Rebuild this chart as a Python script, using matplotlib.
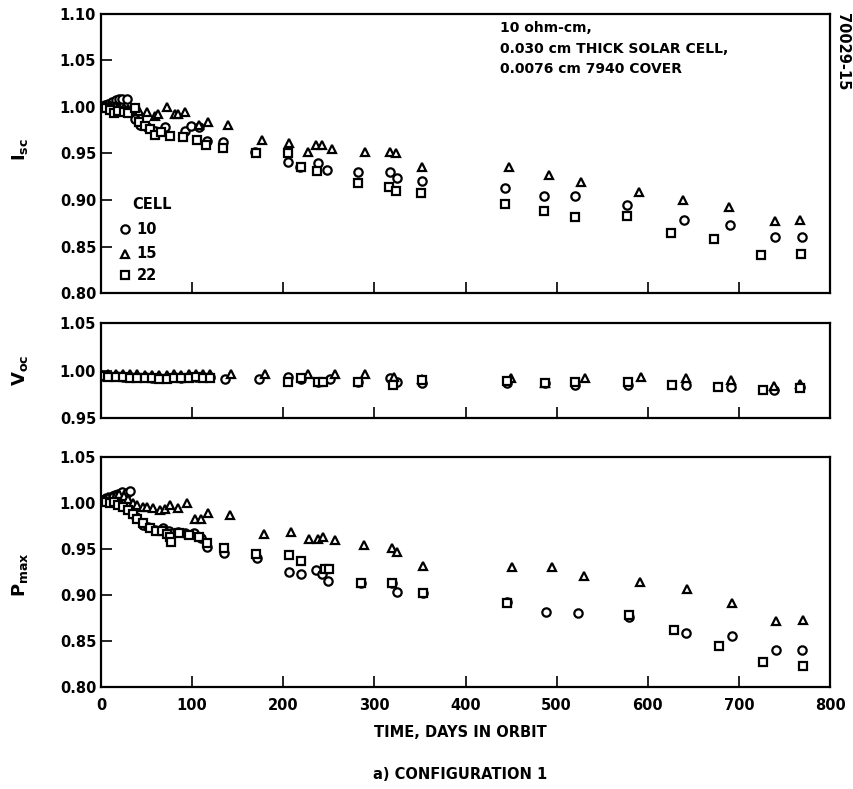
import matplotlib
matplotlib.use("Agg")
import matplotlib.pyplot as plt
import numpy as np

plt.rcParams["font.family"] = ["DejaVu Sans"]
plt.rcParams["font.weight"] = "bold"

# ---- data: normalised I_sc ----
isc_t10 = [0, 4, 8, 12, 16, 20, 23, 28, 37, 37, 43, 50, 59, 70, 92, 99, 108, 116, 134, 169,
           205, 218, 238, 248, 282, 317, 325, 352, 443, 486, 520, 577, 640, 690, 740, 769]
isc_v10 = [1.000, 1.002, 1.003, 1.005, 1.008, 1.009, 1.009, 1.009, 0.997, 0.987, 0.981, 0.978,
           0.974, 0.979, 0.974, 0.980, 0.978, 0.963, 0.962, 0.952, 0.941, 0.936, 0.940, 0.932,
           0.930, 0.930, 0.924, 0.920, 0.913, 0.904, 0.904, 0.895, 0.878, 0.873, 0.860, 0.860]
isc_t15 = [0, 5, 10, 15, 20, 25, 30, 36, 42, 50, 59, 63, 72, 81, 85, 92, 108, 117, 139, 177,
           206, 227, 236, 243, 253, 290, 317, 324, 352, 448, 492, 527, 590, 639, 689, 740, 767]
isc_v15 = [1.000, 1.001, 1.002, 1.001, 1.000, 0.999, 0.998, 0.997, 0.996, 0.995, 0.990, 0.992,
           1.000, 0.992, 0.993, 0.995, 0.981, 0.984, 0.981, 0.965, 0.961, 0.952, 0.959, 0.959,
           0.955, 0.952, 0.952, 0.950, 0.935, 0.936, 0.927, 0.919, 0.909, 0.900, 0.892, 0.877, 0.878]
isc_t22 = [0, 5, 10, 14, 19, 25, 30, 37, 42, 48, 54, 59, 66, 76, 90, 105, 115, 134, 170, 205,
           220, 237, 282, 316, 324, 351, 443, 486, 520, 577, 626, 673, 724, 768]
isc_v22 = [1.000, 0.999, 0.997, 0.994, 0.996, 0.995, 0.994, 0.999, 0.984, 0.980, 0.976, 0.970,
           0.973, 0.969, 0.968, 0.965, 0.959, 0.956, 0.951, 0.950, 0.936, 0.931, 0.918, 0.914,
           0.910, 0.908, 0.896, 0.888, 0.882, 0.883, 0.865, 0.858, 0.841, 0.842]

# ---- data: normalised V_oc ----
voc_t10 = [0, 8, 16, 24, 32, 40, 48, 56, 64, 72, 80, 88, 96, 104, 112, 120, 136, 173, 205, 220,
           238, 251, 282, 317, 325, 352, 445, 487, 520, 578, 642, 691, 739, 767]
voc_v10 = [0.994, 0.994, 0.994, 0.993, 0.993, 0.993, 0.993, 0.992, 0.992, 0.992, 0.993, 0.992,
           0.993, 0.993, 0.993, 0.993, 0.991, 0.991, 0.993, 0.991, 0.988, 0.991, 0.988, 0.992,
           0.988, 0.987, 0.987, 0.987, 0.985, 0.985, 0.985, 0.983, 0.980, 0.983]
voc_t15 = [0, 8, 16, 24, 32, 40, 48, 56, 64, 72, 80, 88, 96, 104, 112, 120, 143, 180, 227, 257,
           290, 322, 352, 450, 487, 531, 593, 642, 691, 739, 767]
voc_v15 = [0.996, 0.996, 0.996, 0.996, 0.996, 0.996, 0.995, 0.995, 0.995, 0.995, 0.996, 0.995,
           0.996, 0.996, 0.996, 0.996, 0.996, 0.996, 0.996, 0.996, 0.996, 0.993, 0.991, 0.992,
           0.987, 0.992, 0.9935, 0.992, 0.990, 0.9835, 0.986]
voc_t22 = [0, 8, 16, 24, 32, 40, 48, 56, 64, 72, 80, 88, 96, 104, 112, 120, 205, 220, 238, 244,
           282, 320, 352, 445, 487, 520, 578, 627, 677, 726, 767]
voc_v22 = [0.994, 0.993, 0.993, 0.993, 0.992, 0.992, 0.992, 0.992, 0.991, 0.991, 0.992, 0.992,
           0.992, 0.993, 0.992, 0.992, 0.988, 0.992, 0.988, 0.988, 0.988, 0.985, 0.990, 0.989,
           0.987, 0.988, 0.988, 0.985, 0.983, 0.9795, 0.982]

# ---- data: normalised P_max ----
pmax_t10 = [0, 6, 10, 15, 19, 23, 28, 32, 38, 46, 52, 59, 68, 75, 85, 92, 102, 110, 116, 135,
            171, 206, 220, 236, 243, 249, 285, 319, 325, 353, 445, 488, 523, 579, 642, 692, 741, 769]
pmax_v10 = [1.003, 1.005, 1.007, 1.009, 1.010, 1.012, 1.011, 1.013, 0.985, 0.976, 0.974, 0.971,
            0.973, 0.970, 0.968, 0.967, 0.967, 0.962, 0.952, 0.946, 0.940, 0.925, 0.923, 0.927,
            0.923, 0.915, 0.913, 0.913, 0.903, 0.902, 0.892, 0.882, 0.880, 0.876, 0.859, 0.855,
            0.840, 0.840]
pmax_t15 = [0, 4, 8, 12, 16, 20, 25, 30, 35, 40, 46, 50, 57, 65, 70, 76, 84, 94, 103, 110, 117,
            141, 179, 208, 228, 238, 244, 257, 289, 319, 325, 353, 451, 495, 530, 592, 643, 692,
            741, 770]
pmax_v15 = [1.002, 1.004, 1.006, 1.008, 1.009, 1.010, 1.008, 1.004, 1.000, 0.998, 0.996, 0.996,
            0.995, 0.992, 0.994, 0.998, 0.995, 1.000, 0.983, 0.983, 0.989, 0.987, 0.966, 0.968,
            0.961, 0.961, 0.963, 0.960, 0.954, 0.951, 0.947, 0.931, 0.930, 0.930, 0.921, 0.914,
            0.907, 0.891, 0.872, 0.873]
pmax_t22 = [0, 5, 10, 14, 19, 24, 30, 35, 40, 46, 54, 60, 67, 72, 76, 77, 86, 96, 108, 116, 135,
            170, 206, 220, 246, 250, 285, 319, 353, 445, 579, 629, 678, 727, 770]
pmax_v22 = [1.002, 1.001, 1.000, 1.001, 0.998, 0.996, 0.992, 0.988, 0.983, 0.978, 0.973, 0.970,
            0.970, 0.966, 0.963, 0.958, 0.967, 0.965, 0.963, 0.957, 0.951, 0.945, 0.943, 0.937,
            0.928, 0.928, 0.913, 0.913, 0.902, 0.891, 0.878, 0.862, 0.845, 0.827, 0.823]

cells = ["10", "15", "22"]
markers = {"10": "o", "15": "^", "22": "s"}
mstyle = dict(linestyle="none", markersize=6, markerfacecolor="white",
              markeredgecolor="black", markeredgewidth=1.6)

panels = [
    ([isc_t10, isc_t15, isc_t22], [isc_v10, isc_v15, isc_v22],
     (0.80, 1.10), [0.80, 0.85, 0.90, 0.95, 1.00, 1.05, 1.10], r"$\mathbf{I_{sc}}$"),
    ([voc_t10, voc_t15, voc_t22], [voc_v10, voc_v15, voc_v22],
     (0.95, 1.05), [0.95, 1.00, 1.05], r"$\mathbf{V_{oc}}$"),
    ([pmax_t10, pmax_t15, pmax_t22], [pmax_v10, pmax_v15, pmax_v22],
     (0.80, 1.05), [0.80, 0.85, 0.90, 0.95, 1.00, 1.05], r"$\mathbf{P_{max}}$"),
]
rects = [
    [0.1183, 0.6286, 0.8536, 0.3537],
    [0.1183, 0.4702, 0.8536, 0.1204],
    [0.1183, 0.1293, 0.8536, 0.2915],
]
ylab_y = [0.81, 0.531, 0.272]

fig = plt.figure(figsize=(8.54, 7.89), dpi=100)
axes = []
for (ts, vs, ylim, yticks, ylab), rect, yl in zip(panels, rects, ylab_y):
    ax = fig.add_axes(rect)
    for c, t, v in zip(cells, ts, vs):
        ax.plot(t, v, marker=markers[c], **mstyle)
    ax.set_xlim(0, 800)
    ax.set_ylim(*ylim)
    ax.set_yticks(yticks)
    ax.set_yticklabels([f"{y:.2f}" for y in yticks], fontsize=10.5, fontweight="bold")
    ax.set_xticks(np.arange(0, 801, 100))
    ax.tick_params(direction="in", length=8, width=1.2, top=False, right=False)
    for s in ax.spines.values():
        s.set_linewidth(1.6)
    fig.text(0.024, yl, ylab, rotation=90, ha="center", va="center", fontsize=13)
    axes.append(ax)

for ax in axes[:2]:
    ax.set_xticklabels([])
axes[2].set_xticklabels([str(x) for x in range(0, 801, 100)], fontsize=10.5, fontweight="bold")
axes[2].tick_params(axis="x", pad=8)

# legend inside top panel
ax = axes[0]
ax.text(0.043, 0.319, "CELL", transform=ax.transAxes, fontsize=10.5, fontweight="bold",
        va="center", ha="left")
for c, yy in zip(cells, [0.229, 0.140, 0.0645]):
    ax.plot([0.033], [yy], transform=ax.transAxes, marker=markers[c], **mstyle)
    ax.text(0.049, yy, c, transform=ax.transAxes, fontsize=10.5, fontweight="bold",
            va="center", ha="left")

ax.text(0.547, 0.975, "10 ohm-cm,\n0.030 cm THICK SOLAR CELL,\n0.0076 cm 7940 COVER",
        transform=ax.transAxes, fontsize=10, fontweight="bold", va="top", ha="left",
        linespacing=1.6)

fig.text(0.987, 0.935, "70029-15", rotation=-90, ha="center", va="center",
         fontsize=10.5, fontweight="bold")

fig.text(0.539, 0.071, "TIME, DAYS IN ORBIT", ha="center", va="center",
         fontsize=10.5, fontweight="bold")
fig.text(0.539, 0.018, "a) CONFIGURATION 1", ha="center", va="center",
         fontsize=10.5, fontweight="bold")

fig.savefig("out.png", dpi=100)
